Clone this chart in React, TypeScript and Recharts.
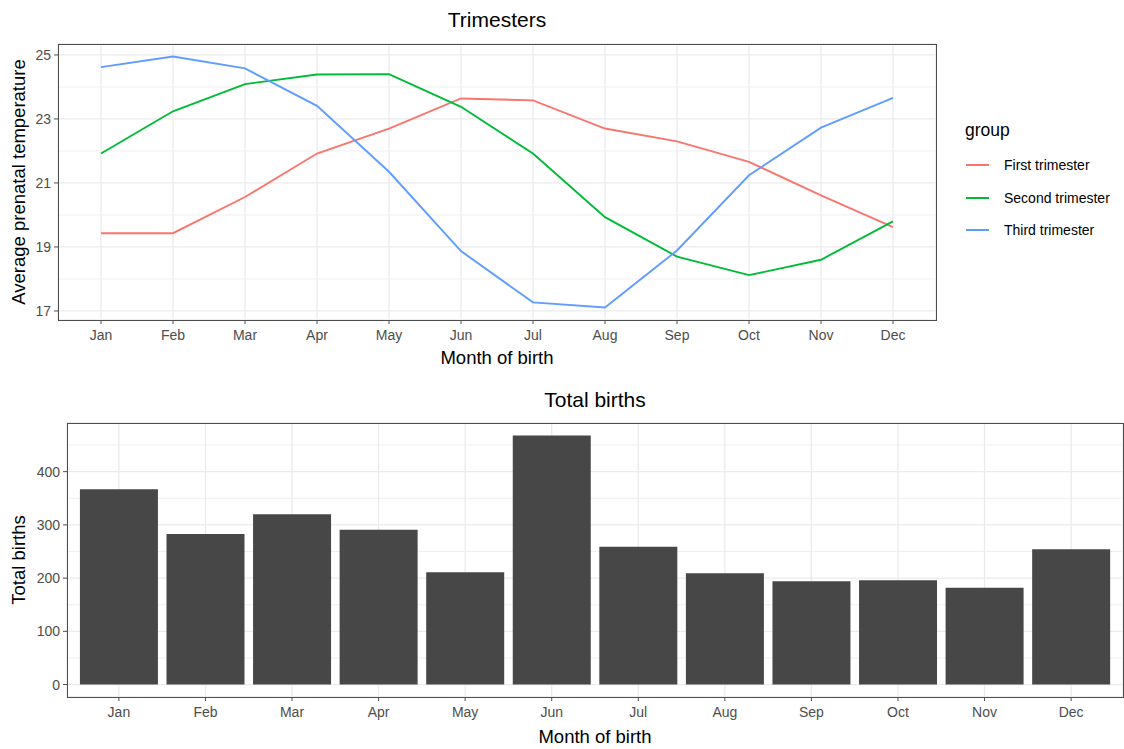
import React from 'react';
import { LineChart, Line, BarChart, Bar, XAxis, YAxis, CartesianGrid } from 'recharts';

// Month of birth categories
const months = ['Jan', 'Feb', 'Mar', 'Apr', 'May', 'Jun', 'Jul', 'Aug', 'Sep', 'Oct', 'Nov', 'Dec'];

// Average prenatal temperature per trimester, by month of birth
const firstTrimester = [19.43, 19.43, 20.56, 21.92, 22.7, 23.64, 23.58, 22.7, 22.3, 21.66, 20.61, 19.62];
const secondTrimester = [21.92, 23.24, 24.09, 24.39, 24.4, 23.38, 21.92, 19.93, 18.7, 18.12, 18.6, 19.8];
const thirdTrimester = [24.62, 24.95, 24.58, 23.41, 21.35, 18.87, 17.27, 17.11, 18.89, 21.24, 22.73, 23.66];

// Total births by month
const totalBirths = [367, 283, 320, 291, 211, 468, 259, 209, 194, 196, 182, 254];

// Axis breaks
const tempTicks = [17, 19, 21, 23, 25];
const tempMinorTicks = [18, 20, 22, 24];
const birthTicks = [0, 100, 200, 300, 400];
const birthMinorTicks = [50, 150, 250, 350, 450];

const seriesNames = ['First trimester', 'Second trimester', 'Third trimester'];
const seriesKeys = ['first', 'second', 'third'];
const seriesColors = ['#F8766D', '#00BA38', '#619CFF'];

const tempData = months.map((m, i) => ({
  month: m,
  first: firstTrimester[i],
  second: secondTrimester[i],
  third: thirdTrimester[i],
}));

const birthData = months.map((m, i) => ({ month: m, births: totalBirths[i] }));

// ggplot-style 5% expansion of a continuous range
function expand(values: number[], frac = 0.05): [number, number] {
  const lo = Math.min(...values);
  const hi = Math.max(...values);
  const pad = (hi - lo) * frac;
  return [lo - pad, hi + pad];
}

const tempDomain = expand([...firstTrimester, ...secondTrimester, ...thirdTrimester]);
const birthDomain = expand([0, ...totalBirths]);

const FONT = '"Liberation Sans", Arial, Helvetica, sans-serif';
const GRID = '#EBEBEB';
const BORDER = '#4D4D4D';
const TITLE_SIZE = 18.5;
const tickStyle = { fill: '#4D4D4D', fontSize: 14, fontFamily: FONT };

// Chart geometry
const TOP_W = 940;
const TOP_H = 375;
const TOP_MARGIN = { top: 44, right: 4, bottom: 0, left: 0 };
const TOP_YAXIS_W = 58;
const TOP_XAXIS_H = 55;

const BOT_Y = 375;
const BOT_W = 1124;
const BOT_H = 374;
const BOT_MARGIN = { top: 48, right: 1, bottom: 0, left: 0 };
const BOT_YAXIS_W = 67;
const BOT_XAXIS_H = 52;

const verticalTitle = (text: string, cx: number) => (props: any) => {
  const vb = props.viewBox || {};
  const cy = (vb.y || 0) + (vb.height || 0) / 2;
  return (
    <text
      x={cx}
      y={cy}
      transform={`rotate(-90 ${cx} ${cy})`}
      textAnchor="middle"
      dominantBaseline="central"
      fill="#000"
      fontSize={TITLE_SIZE}
      fontFamily={FONT}
    >
      {text}
    </text>
  );
};

const horizontalTitle = (text: string, baselineFromTop: number) => (props: any) => {
  const vb = props.viewBox || {};
  const cx = (vb.x || 0) + (vb.width || 0) / 2;
  const y = (vb.y || 0) + baselineFromTop;
  return (
    <text x={cx} y={y} textAnchor="middle" fill="#000" fontSize={TITLE_SIZE} fontFamily={FONT}>
      {text}
    </text>
  );
};

// Panel frame drawn around the plotting region
function PanelFrame({ left, top, width, height }: { left: number; top: number; width: number; height: number }) {
  return (
    <div
      style={{
        position: 'absolute',
        left: left - 0.5,
        top: top - 0.5,
        width: width + 1,
        height: height + 1,
        boxSizing: 'border-box',
        border: `1.2px solid ${BORDER}`,
        pointerEvents: 'none',
      }}
    />
  );
}

export default function App() {
  const topPlot = {
    left: TOP_MARGIN.left + TOP_YAXIS_W,
    top: TOP_MARGIN.top,
    width: TOP_W - TOP_MARGIN.left - TOP_MARGIN.right - TOP_YAXIS_W,
    height: TOP_H - TOP_MARGIN.top - TOP_MARGIN.bottom - TOP_XAXIS_H,
  };
  const botPlot = {
    left: BOT_MARGIN.left + BOT_YAXIS_W,
    top: BOT_Y + BOT_MARGIN.top,
    width: BOT_W - BOT_MARGIN.left - BOT_MARGIN.right - BOT_YAXIS_W,
    height: BOT_H - BOT_MARGIN.top - BOT_MARGIN.bottom - BOT_XAXIS_H,
  };

  return (
    <div
      style={{
        position: 'absolute',
        left: 0,
        top: 0,
        width: 1124,
        height: 749,
        background: '#fff',
        fontFamily: FONT,
      }}
    >
      {/* Trimesters panel */}
      <div style={{ position: 'absolute', left: topPlot.left, top: 8, width: topPlot.width, textAlign: 'center', fontSize: 21, lineHeight: '24px' }}>
        Trimesters
      </div>
      <div style={{ position: 'absolute', left: 0, top: 0 }}>
        <LineChart width={TOP_W} height={TOP_H} data={tempData} margin={TOP_MARGIN}>
          <CartesianGrid horizontalValues={tempMinorTicks} vertical={false} stroke={GRID} strokeWidth={0.8} />
          <CartesianGrid stroke={GRID} strokeWidth={1.3} />
          <XAxis
            dataKey="month"
            height={TOP_XAXIS_H}
            padding={{ left: 43, right: 43 }}
            tick={tickStyle}
            tickSize={4}
            tickMargin={6}
            tickLine={{ stroke: BORDER }}
            axisLine={false}
            interval={0}
            label={horizontalTitle('Month of birth', 44)}
          />
          <YAxis
            type="number"
            domain={tempDomain}
            ticks={tempTicks}
            width={TOP_YAXIS_W}
            tick={tickStyle}
            tickSize={4}
            tickMargin={3}
            tickLine={{ stroke: BORDER }}
            axisLine={false}
            allowDataOverflow
            label={verticalTitle('Average prenatal temperature', 18)}
          />
          {seriesKeys.map((k, i) => (
            <Line
              key={k}
              type="linear"
              dataKey={k}
              name={seriesNames[i]}
              stroke={seriesColors[i]}
              strokeWidth={1.9}
              dot={false}
              activeDot={false}
              isAnimationActive={false}
            />
          ))}
        </LineChart>
      </div>
      <PanelFrame {...topPlot} />

      {/* Legend */}
      <div style={{ position: 'absolute', left: 965, top: 119, fontSize: 17.5, lineHeight: '22px', color: '#000' }}>group</div>
      {seriesNames.map((name, i) => (
        <div
          key={name}
          style={{ position: 'absolute', left: 966, top: 155 + i * 32.5, height: 20, display: 'flex', alignItems: 'center' }}
        >
          <div style={{ width: 23, height: 2, background: seriesColors[i], marginRight: 15 }} />
          <span style={{ fontSize: 14, color: '#000', whiteSpace: 'nowrap' }}>{name}</span>
        </div>
      ))}

      {/* Total births panel */}
      <div style={{ position: 'absolute', left: botPlot.left, top: 388, width: botPlot.width, textAlign: 'center', fontSize: 21, lineHeight: '24px' }}>
        Total births
      </div>
      <div style={{ position: 'absolute', left: 0, top: BOT_Y }}>
        <BarChart width={BOT_W} height={BOT_H} data={birthData} margin={BOT_MARGIN} barCategoryGap="5%">
          <CartesianGrid horizontalValues={birthMinorTicks} vertical={false} stroke={GRID} strokeWidth={0.8} />
          <CartesianGrid stroke={GRID} strokeWidth={1.3} />
          <XAxis
            dataKey="month"
            height={BOT_XAXIS_H}
            padding={{ left: 8.6, right: 8.6 }}
            tick={tickStyle}
            tickSize={4}
            tickMargin={6}
            tickLine={{ stroke: BORDER }}
            axisLine={false}
            interval={0}
            label={horizontalTitle('Month of birth', 46)}
          />
          <YAxis
            type="number"
            domain={birthDomain}
            ticks={birthTicks}
            width={BOT_YAXIS_W}
            tick={tickStyle}
            tickSize={4}
            tickMargin={3}
            tickLine={{ stroke: BORDER }}
            axisLine={false}
            allowDataOverflow
            label={verticalTitle('Total births', 18)}
          />
          <Bar dataKey="births" fill="#474747" isAnimationActive={false} />
        </BarChart>
      </div>
      <PanelFrame {...botPlot} />
    </div>
  );
}
